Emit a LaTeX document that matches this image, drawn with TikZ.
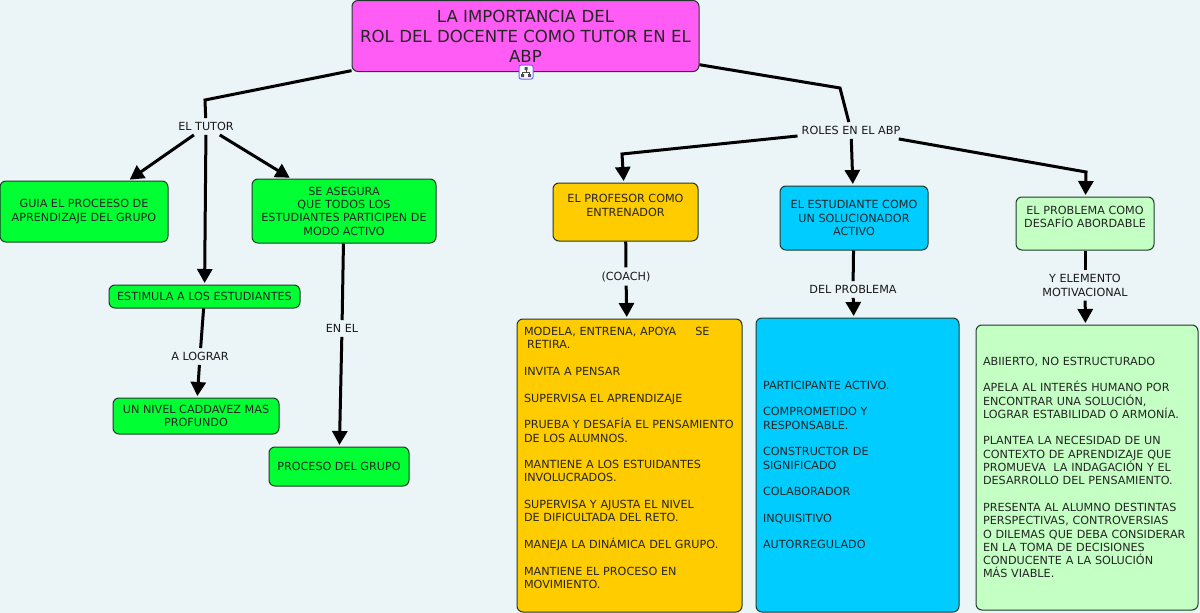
\documentclass[tikz,border=0pt]{standalone}
\usepackage{fontspec}
\setmainfont{DejaVu Sans}
\usetikzlibrary{arrows.meta}
\definecolor{fondo}{HTML}{EBF4F7}
\definecolor{rosa}{HTML}{FF5CF5}
\definecolor{verde}{HTML}{00FF33}
\definecolor{naranja}{HTML}{FFCC00}
\definecolor{celeste}{HTML}{00CCFF}
\definecolor{palido}{HTML}{C4FFC4}
\definecolor{borde}{HTML}{1F3A2A}
\begin{document}
\begin{tikzpicture}[x=1pt, y=-1pt,
      caja/.style={draw=borde, line width=1pt, rounded corners=6pt, inner sep=0pt, font=\fontsize{11.2}{13.3}\selectfont, text=black!85, align=center},
      lista/.style={caja, align=left},
      rotulo/.style={inner sep=4pt, font=\fontsize{11.2}{13.3}\selectfont, text=black!90, align=center},
      linea/.style={line width=3pt, black},
      flecha/.style={linea, shorten >=1.5pt, -{Triangle[length=14pt,width=15pt]}}]
      \useasboundingbox[fill=fondo] (0,0) rectangle (1200,613);
      \node[caja, fill=rosa, minimum width=347pt, minimum height=71pt, font=\fontsize{16.6}{20}\selectfont] (titulo) at (525.5,36) {LA IMPORTANCIA DEL\\ROL DEL DOCENTE COMO TUTOR EN EL\\ABP};
      \node[draw=blue!60, fill=white, line width=1pt, rounded corners=2pt, minimum size=14pt, inner sep=0pt] (icono) at (526,72) {};
      \fill[black!70] (521,74) rectangle (524,77) (528,74) rectangle (531,77) (524.5,67) rectangle (527.5,70);
      \draw[black!70, line width=0.7pt] (526,70) -- (526,72) (522.5,74) -- (522.5,72) -- (529.5,72) -- (529.5,74);

      \node[caja, fill=verde, minimum width=168pt, minimum height=61pt] (guia) at (84,211.5) {GUIA EL PROCEESO DE\\APRENDIZAJE DEL GRUPO};
      \node[caja, fill=verde, minimum width=184pt, minimum height=64pt] (asegura) at (344,211) {SE ASEGURA\\QUE TODOS LOS\\ESTUDIANTES PARTICIPEN DE\\MODO ACTIVO};
      \node[caja, fill=verde, minimum width=191pt, minimum height=23pt] (estimula) at (204.5,296.5) {ESTIMULA A LOS ESTUDIANTES};
      \node[caja, fill=verde, minimum width=166pt, minimum height=36pt] (nivel) at (196,416) {UN NIVEL CADDAVEZ MAS\\PROFUNDO};
      \node[caja, fill=verde, minimum width=140pt, minimum height=39pt] (proceso) at (339,466.5) {PROCESO DEL GRUPO};
      \node[caja, fill=naranja, minimum width=145pt, minimum height=58pt] (profesor) at (625.5,212) {EL PROFESOR COMO\\ENTRENADOR\\\mbox{}};
      \node[caja, fill=celeste, minimum width=148pt, minimum height=64pt] (estudiante) at (854,218) {EL ESTUDIANTE COMO\\UN SOLUCIONADOR\\ACTIVO};
      \node[caja, fill=palido, minimum width=138pt, minimum height=53pt] (problema) at (1085,223.5) {EL PROBLEMA COMO\\DESAFÍO ABORDABLE\\\mbox{}};

      \node[lista, fill=naranja, minimum width=225pt, minimum height=293pt, text width=211pt] (tareas) at (629.5,465.5) {MODELA, ENTRENA, APOYA\hspace{19pt}SE\\\hspace{3pt}RETIRA.\\\mbox{}\\INVITA A PENSAR\\\mbox{}\\SUPERVISA EL APRENDIZAJE\\\mbox{}\\PRUEBA Y DESAFÍA EL PENSAMIENTO\\DE LOS ALUMNOS.\\\mbox{}\\MANTIENE A LOS ESTUIDANTES\\INVOLUCRADOS.\\\mbox{}\\SUPERVISA Y AJUSTA EL NIVEL\\DE DIFICULTADA DEL RETO.\\\mbox{}\\MANEJA LA DINÁMICA DEL GRUPO.\\\mbox{}\\MANTIENE EL PROCESO EN\\MOVIMIENTO.\\[2pt]\mbox{}};
      \node[lista, fill=celeste, minimum width=203pt, minimum height=294pt, text width=189pt] (cualidades) at (857.5,465) {PARTICIPANTE ACTIVO.\\\mbox{}\\COMPROMETIDO Y\\RESPONSABLE.\\\mbox{}\\CONSTRUCTOR DE\\SIGNIFICADO\\\mbox{}\\COLABORADOR\\\mbox{}\\INQUISITIVO\\\mbox{}\\AUTORREGULADO};
      \node[lista, fill=palido, minimum width=222pt, minimum height=285pt, text width=208pt] (rasgos) at (1087,467.5) {ABIIERTO, NO ESTRUCTURADO\\\mbox{}\\APELA AL INTERÉS HUMANO POR\\ENCONTRAR UNA SOLUCIÓN,\\LOGRAR ESTABILIDAD O ARMONÍA.\\\mbox{}\\PLANTEA LA NECESIDAD DE UN\\CONTEXTO DE APRENDIZAJE QUE\\PROMUEVA\ \ LA INDAGACIÓN Y EL\\DESARROLLO DEL PENSAMIENTO.\\\mbox{}\\PRESENTA AL ALUMNO DESTINTAS\\PERSPECTIVAS, CONTROVERSIAS\\O DILEMAS QUE DEBA CONSIDERAR\\EN LA TOMA DE DECISIONES\\CONDUCENTE A LA SOLUCIÓN\\MÁS VIABLE.};

      \node[rotulo] (tutor) at (206,126.5) {EL TUTOR};
      \node[rotulo] (roles) at (851,130.5) {ROLES EN EL ABP};
      \node[rotulo] (lograr) at (200,356.5) {A LOGRAR};
      \node[rotulo] (enel) at (342,328.5) {EN EL};
      \node[rotulo] (coach) at (626,276.5) {(COACH)};
      \node[rotulo] (delproblema) at (853,289.5) {DEL PROBLEMA};
      \node[rotulo] (motivacional) at (1085,285.5) {Y ELEMENTO\\MOTIVACIONAL};

      \coordinate (codoizq) at (205,100);
      \coordinate (cododer) at (840,88);
      \coordinate (codoprof) at (622,154);
      \coordinate (codoprob) at (1086,172);

      \draw[linea, line join=miter] (titulo) -- (codoizq) -- (tutor);
      \draw[linea, line join=miter] (titulo) -- (cododer) -- (roles);
      \draw[flecha] (tutor) -- (guia);
      \draw[flecha] (tutor) -- (estimula);
      \draw[flecha] (tutor) -- (asegura);
      \draw[linea] (estimula) -- (lograr);
      \draw[flecha] (lograr) -- (nivel);
      \draw[linea] (asegura) -- (enel);
      \draw[flecha] (enel) -- (proceso);
      \draw[flecha, line join=miter] (roles) -- (codoprof) -- (profesor);
      \draw[flecha] (roles) -- (estudiante);
      \draw[flecha, line join=miter] (roles) -- (codoprob) -- (problema);
      \draw[linea] (profesor) -- (coach);
      \draw[flecha] (coach) -- (tareas);
      \draw[linea] (estudiante) -- (delproblema);
      \draw[flecha] (delproblema) -- (cualidades);
      \draw[linea] (problema) -- (motivacional);
      \draw[flecha] (motivacional) -- (rasgos);
\end{tikzpicture}
\end{document}
